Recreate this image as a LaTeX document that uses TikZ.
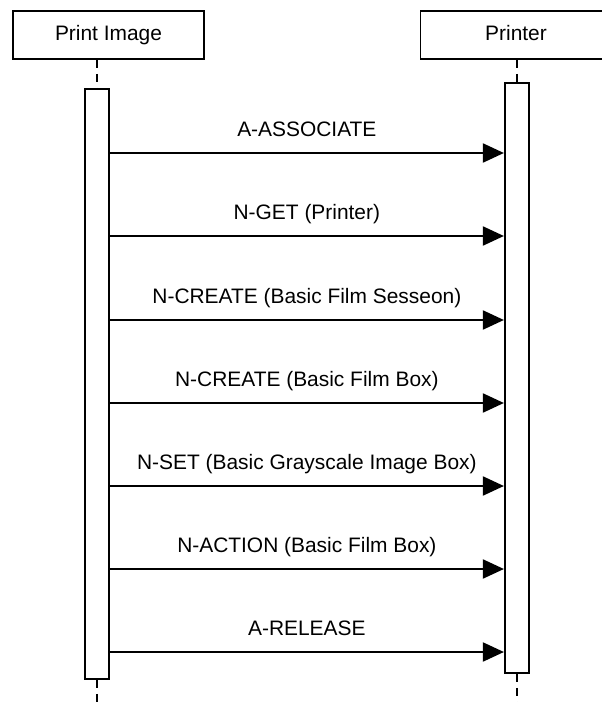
\documentclass[tikz,border=0pt]{standalone}
\usepackage{fontspec}
\setmainfont{Liberation Sans}
\usetikzlibrary{arrows.meta}
\begin{document}
\begin{tikzpicture}[x=1bp,y=-1bp,
  txt/.style={font=\fontsize{21}{25}\selectfont},
  obj/.style={txt, draw, line width=1.6bp, minimum width=191bp, minimum height=48bp, inner sep=0pt, text height=15bp, text depth=4.5bp},
  bar/.style={draw, fill=white, line width=1.6bp, minimum width=24bp, minimum height=590bp, inner sep=0pt},
  life/.style={line width=1.6bp, dash pattern=on 8bp off 6bp},
  msg/.style={line width=2bp, -{Triangle[length=21bp,width=19bp]}},
  lbl/.style={txt, anchor=base, inner sep=0pt, yshift=16.7bp}]
\useasboundingbox (0,0) rectangle (602,702);
\clip (0,0) rectangle (602,702);
\node[obj] (pimg) at (108.5,35) {Print Image};
\node[obj] (prn) at (516,35) {Printer};
\node[bar] (lbar) at (97,384) {};
\node[bar] (rbar) at (516.7,378) {};
\coordinate (lend) at (97,702);
\coordinate (rend) at (516.7,702);
\draw[life] (pimg.south -| lbar.north) -- (lbar.north);
\draw[life] (lbar.south) -- (lend);
\draw[life] (prn.south -| rbar.north) -- (rbar.north);
\draw[life] (rbar.south) -- (rend);
\foreach \i/\t/\y in {0/A-ASSOCIATE/153,1/N-GET (Printer)/236,2/N-CREATE (Basic Film Sesseon)/320,3/N-CREATE (Basic Film Box)/403,4/N-SET (Basic Grayscale Image Box)/486,5/N-ACTION (Basic Film Box)/569,6/A-RELEASE/652}{
  \coordinate (s\i) at (lbar.east |- 0,\y);
  \coordinate (e\i) at (rbar.west |- s\i);
  \draw[msg] (s\i) -- node[lbl] {\t} (e\i);
}
\end{tikzpicture}
\end{document}
